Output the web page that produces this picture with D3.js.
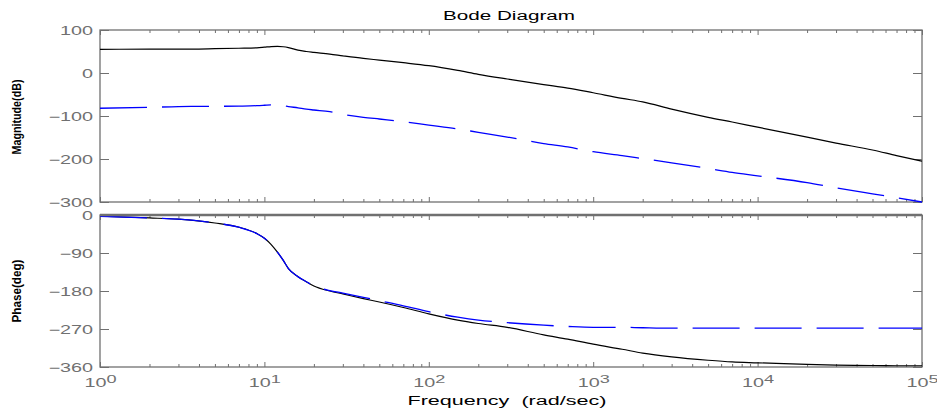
<!DOCTYPE html>
<html>
<head>
<meta charset="utf-8">
<script src="https://cdn.jsdelivr.net/npm/d3@7"></script>
<style>
  body { margin: 0; background: #fff; }
  svg text { font-family: "Liberation Sans", Arial, sans-serif; }
</style>
</head>
<body>
<svg id="chart" width="937" height="410"></svg>
<script>
// frequency grid (rad/sec) the values were read at
const freqs = [1, 2, 3, 5, 7, 9, 10, 11, 12, 13, 14, 16, 18, 20, 25, 30, 40, 50, 70, 100,
  150, 200, 300, 500, 700, 1000, 1500, 2000, 3000, 5000, 7000, 1e4, 2e4, 3e4, 5e4, 7e4, 1e5];

// magnitude (dB), solid black and dashed blue
const magSys1 = [55, 55.5, 55.5, 56.5, 57.5, 58.5, 60, 61.5, 62, 61, 59, 53, 50, 48, 44, 40, 34, 30, 24, 17,
  6, -3, -14, -27, -35, -46, -59, -67, -84, -103, -114, -126, -149, -163, -179, -192, -205];
const magSys2 = [-82, -80, -78, -77.5, -77, -76, -75, -74, -74.5, -76, -78, -81, -84, -86, -90, -96, -103, -107, -113, -121,
  -130, -138, -149, -164, -172, -183, -192, -199, -209, -222, -231, -239, -255, -267, -281, -290, -300];

// phase (deg)
const phaseSys1 = [-3, -7, -10, -19, -29, -44, -55, -70, -88, -107, -127, -146, -158, -168, -180, -187, -198, -206, -219, -234,
  -249, -257, -266, -284, -294, -306, -318, -327, -336, -344, -348, -350, -354, -355.5, -356.5, -357, -357];
const phaseSys2 = [-3, -7, -10, -19, -29, -44, -55, -70, -88, -107, -127, -146, -158, -168, -179, -185, -195, -203, -215, -229,
  -242, -249, -255, -261, -264, -266, -266, -267, -268, -268, -268, -268, -268, -268, -268, -268, -268];

const magTicks = [100, 0, -100, -200, -300];
const phaseTicks = [0, -90, -180, -270, -360];
const decades = [1, 10, 100, 1000, 10000, 100000];

const svg = d3.select('#chart');
const left = 100, right = 922;
const axisColor = '#707070';
const stretch = 1.65;   // the original figure text is stretched sideways

const x = d3.scaleLog().domain([1, 1e5]).range([left, right]);
const yMag = d3.scaleLinear().domain([-300, 100]).range([202, 30]);
const yPh = d3.scaleLinear().domain([-360, 0]).range([367, 215]);

function panel(name, y, ticks, top, bottom, series, showX) {
    const g = svg.append('g');

    // clip for the curves
    svg.append('clipPath').attr('id', 'clip-' + name)
        .append('rect')
        .attr('x', left).attr('y', top - 1)
        .attr('width', right - left).attr('height', bottom - top + 2);

    // left axis with labels
    const ax = g.append('g')
        .attr('transform', `translate(${left},0)`)
        .call(d3.axisLeft(y).tickValues(ticks).tickSize(-9).tickPadding(7));
    ax.select('.domain').remove();
    ax.selectAll('text')
        .attr('x', 0)
        .attr('dy', '0.35em')
        .attr('transform', `translate(-7,0) scale(${stretch},1)`)
        .attr('font-size', 12)
        .attr('fill', axisColor);

    // right axis, ticks only
    const ar = g.append('g')
        .attr('transform', `translate(${right},0)`)
        .call(d3.axisRight(y).tickValues(ticks).tickSize(-9).tickFormat(''));
    ar.select('.domain').remove();

    // top and bottom log axes
    const at = g.append('g')
        .attr('transform', `translate(0,${top})`)
        .call(d3.axisTop(x).tickSize(-3).tickFormat(''));
    at.select('.domain').remove();
    at.selectAll('.tick line').filter(d => decades.includes(d)).attr('y2', 5);

    const ab = g.append('g')
        .attr('transform', `translate(0,${bottom})`)
        .call(d3.axisBottom(x).tickSize(-3).tickFormat(d => (showX && decades.includes(d)) ? 'x' : ''));
    ab.select('.domain').remove();
    ab.selectAll('.tick line').filter(d => decades.includes(d)).attr('y2', -5);

    if (showX) {
        ab.selectAll('text').filter(d => decades.includes(d)).each(function(d) {
            const t = d3.select(this);
            t.text(null)
                .attr('y', 20).attr('dy', 0)
                .attr('transform', `scale(${stretch},1)`)
                .attr('font-size', 12)
                .attr('fill', axisColor);
            t.append('tspan').text('10');
            t.append('tspan').attr('dy', -4).attr('font-size', 11).text(Math.round(Math.log10(d)));
        });
    }

    g.selectAll('.tick line').attr('stroke', axisColor);

    // frame
    g.append('rect')
        .attr('x', left).attr('y', top)
        .attr('width', right - left).attr('height', bottom - top)
        .attr('fill', 'none')
        .attr('stroke', axisColor)
        .attr('stroke-width', 1.3);

    // curves
    const line = d3.line()
        .x((d, i) => x(freqs[i]))
        .y(d => y(d))
        .curve(d3.curveMonotoneX);

    const curves = svg.append('g').attr('clip-path', `url(#clip-${name})`);
    curves.append('path')
        .attr('d', line(series[0]))
        .attr('fill', 'none')
        .attr('stroke', '#000')
        .attr('stroke-width', 1.2);
    curves.append('path')
        .attr('d', line(series[1]))
        .attr('fill', 'none')
        .attr('stroke', '#0000ff')
        .attr('stroke-width', 1.3)
        .attr('stroke-dasharray', '47,15');
}

panel('mag', yMag, magTicks, 30, 202, [magSys1, magSys2], false);
panel('phase', yPh, phaseTicks, 215, 367, [phaseSys1, phaseSys2], true);

// thick top edge of the phase panel
svg.append('line')
    .attr('x1', left).attr('x2', right)
    .attr('y1', 215).attr('y2', 215)
    .attr('stroke', axisColor)
    .attr('stroke-width', 2.5);

// titles
svg.append('text')
    .attr('x', 509).attr('y', 20)
    .attr('text-anchor', 'middle')
    .attr('font-size', 12.5)
    .attr('textLength', 132)
    .attr('lengthAdjust', 'spacingAndGlyphs')
    .text('Bode Diagram');

svg.append('text')
    .attr('x', 507).attr('y', 405)
    .attr('text-anchor', 'middle')
    .attr('font-size', 12.5)
    .attr('textLength', 199)
    .attr('lengthAdjust', 'spacingAndGlyphs')
    .attr('xml:space', 'preserve')
    .style('white-space', 'pre')
    .text('Frequency  (rad/sec)');

svg.append('text')
    .attr('transform', 'translate(21,117) rotate(-90)')
    .attr('text-anchor', 'middle')
    .attr('font-size', 12)
    .attr('font-weight', 'bold')
    .attr('textLength', 75)
    .attr('lengthAdjust', 'spacingAndGlyphs')
    .text('Magnitude(dB)');

svg.append('text')
    .attr('transform', 'translate(21,291) rotate(-90)')
    .attr('text-anchor', 'middle')
    .attr('font-size', 12)
    .attr('font-weight', 'bold')
    .attr('textLength', 63)
    .attr('lengthAdjust', 'spacingAndGlyphs')
    .text('Phase(deg)');
</script>
</body>
</html>
